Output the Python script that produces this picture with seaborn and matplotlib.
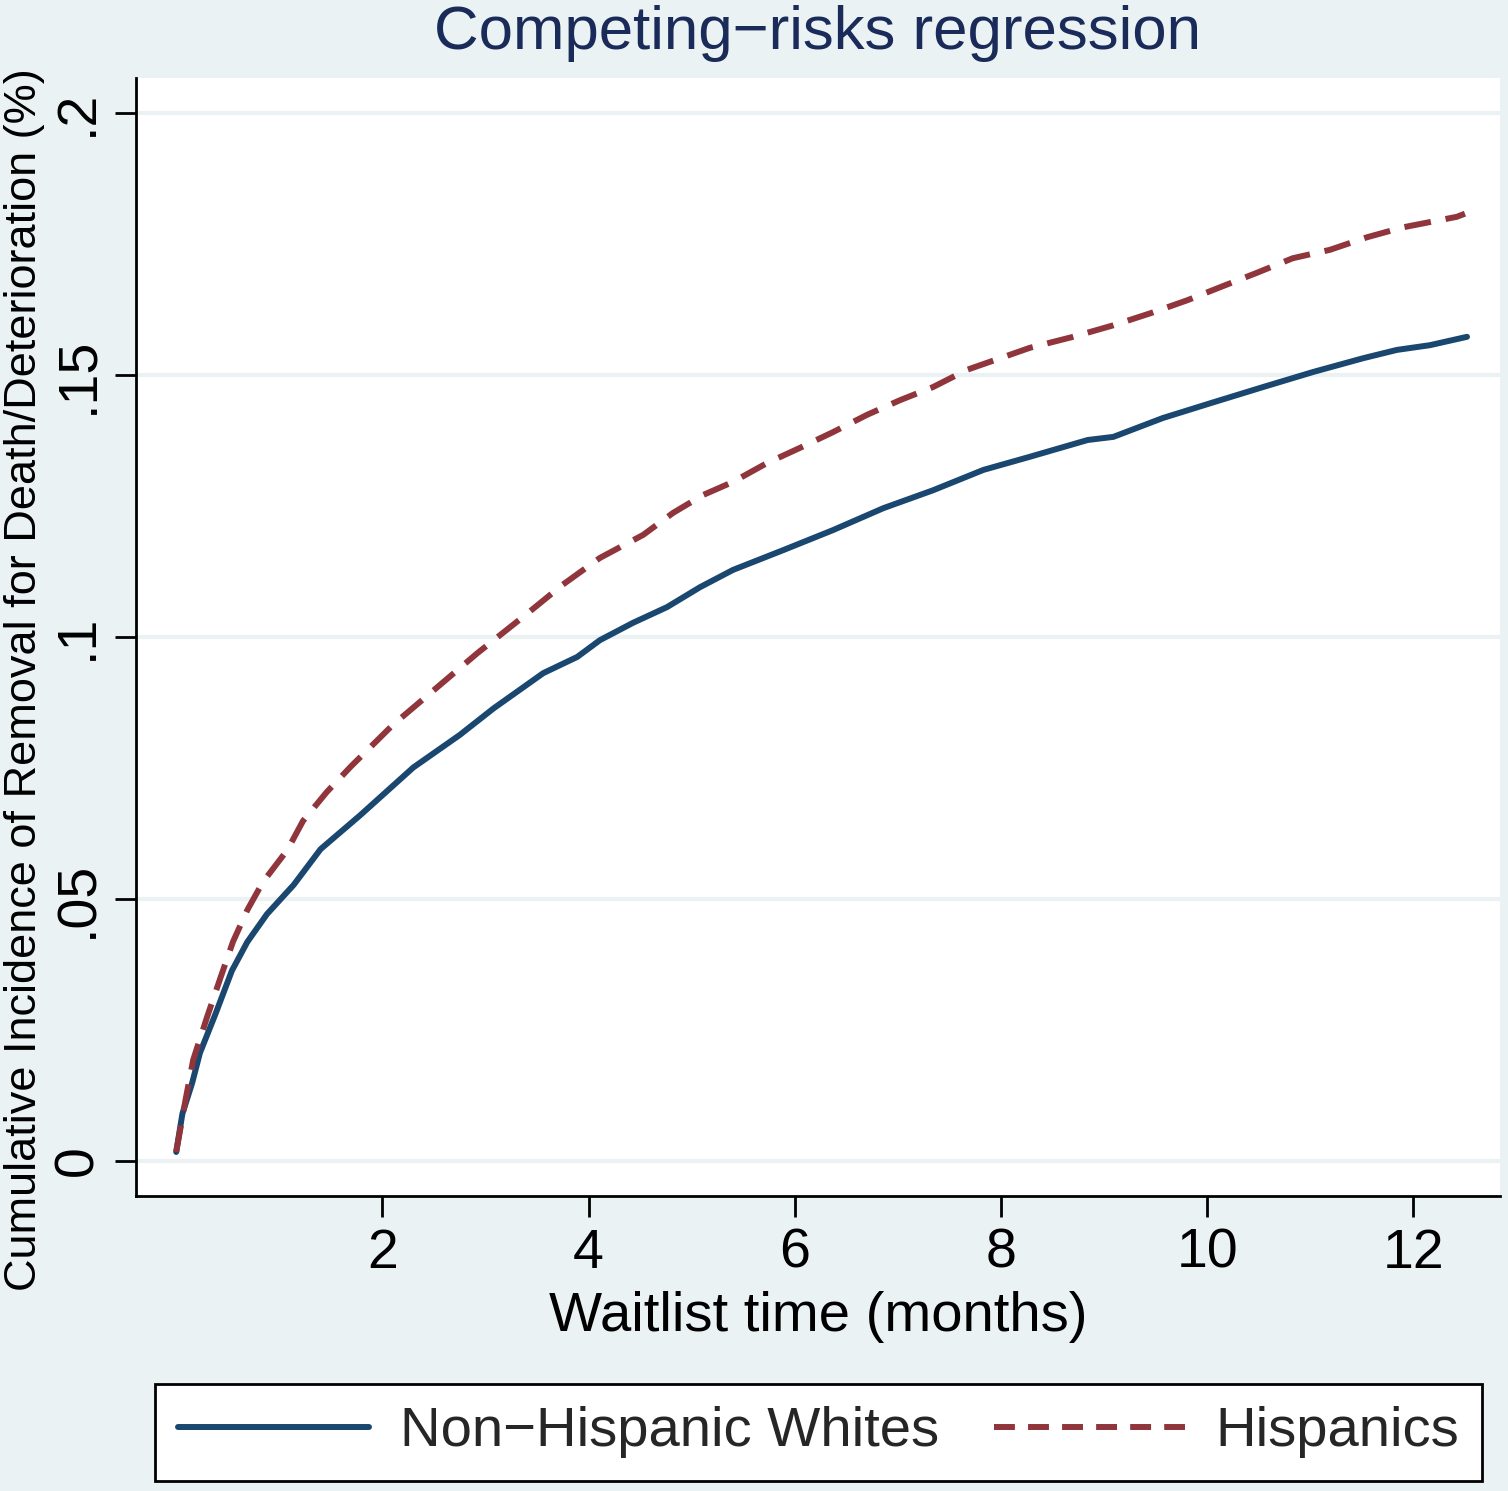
import pandas as pd
import numpy as np
from matplotlib import pyplot as plt
from matplotlib.lines import Line2D
import seaborn as sns

# curves
months = [0.0, 0.06, 0.155, 0.23, 0.38, 0.54, 0.69, 0.88, 1.14, 1.40,
          1.78, 2.30, 2.75, 3.08, 3.56, 3.89, 4.11, 4.43, 4.76, 5.08,
          5.40, 5.89, 6.37, 6.86, 7.34, 7.83, 8.28, 8.84, 9.09, 9.57,
          10.06, 10.54, 11.03, 11.51, 11.84, 12.16, 12.52]
whites = [0.0017, 0.009, 0.0149, 0.0206, 0.028, 0.0363, 0.0418, 0.0471, 0.0527, 0.0595,
          0.0659, 0.0751, 0.0813, 0.0864, 0.0931, 0.0962, 0.0994, 0.1027, 0.1057, 0.1095,
          0.1128, 0.1166, 0.1204, 0.1246, 0.128, 0.1319, 0.1344, 0.1376, 0.1382, 0.1418,
          0.1448, 0.1477, 0.1506, 0.1532, 0.1548, 0.1557, 0.1573]

months_h = [0.0, 0.09, 0.165, 0.30, 0.43, 0.55, 0.69, 0.84, 1.08, 1.23,
            1.46, 1.69, 2.10, 2.43, 2.92, 3.40, 3.75, 4.11, 4.53, 4.82,
            5.11, 5.40, 5.73, 6.05, 6.37, 6.70, 7.02, 7.34, 7.67, 7.99,
            8.28, 8.70, 9.09, 9.45, 9.81, 10.13, 10.48, 10.83, 11.19, 11.55,
            11.90, 12.42, 12.50]
hispanics = [0.0017, 0.0116, 0.0193, 0.0275, 0.035, 0.0418, 0.0479, 0.0532, 0.0594, 0.0649,
             0.0704, 0.0752, 0.0832, 0.0887, 0.0969, 0.1044, 0.110, 0.1151, 0.1195, 0.1237,
             0.1271, 0.1296, 0.1332, 0.1361, 0.1391, 0.1424, 0.1452, 0.1477, 0.151, 0.1532,
             0.1552, 0.1573, 0.1595, 0.1618, 0.1643, 0.1668, 0.1695, 0.1723, 0.1739, 0.1763,
             0.1782, 0.1802, 0.1808]

group_names = ["Non\u2212Hispanic Whites", "Hispanics"]
yticks = [0, 0.05, 0.1, 0.15, 0.2]
ytick_labels = ["0", ".05", ".1", ".15", ".2"]
xticks = [2, 4, 6, 8, 10, 12]

bg = "#eaf2f3"
navy = "#1a476f"
maroon = "#90353b"

sns.set_theme(style="white")
plt.rcParams["font.family"] = ["Liberation Sans", "DejaVu Sans"]

fig = plt.figure(figsize=(15.08, 14.91), dpi=100)
fig.patch.set_facecolor(bg)
W, H = 1508, 1491
ax = fig.add_axes([136 / W, 1 - 1196 / H, (1500 - 136) / W, (1196 - 78) / H])
ax.set_facecolor("white")

df_w = pd.DataFrame({"months": months, "cif": whites})
df_h = pd.DataFrame({"months": months_h, "cif": hispanics})
sns.lineplot(data=df_w, x="months", y="cif", ax=ax, color=navy, lw=4.3,
             solid_capstyle="round")
sns.lineplot(data=df_h, x="months", y="cif", ax=ax, color=maroon, lw=4.3,
             dashes=False)
ax.lines[-1].set_dashes((4.5, 2.5))

ax.set_xlim(-0.39, 12.84)
ax.set_ylim(-0.0067, 0.2067)
ax.set_yticks(yticks)
ax.set_yticklabels(ytick_labels, rotation=90, va="center")
ax.set_xticks(xticks)
ax.grid(axis="y", color=bg, lw=3)
ax.grid(axis="x", visible=False)
for s in ["top", "right"]:
    ax.spines[s].set_visible(False)
for s in ["left", "bottom"]:
    ax.spines[s].set_color("black")
    ax.spines[s].set_linewidth(2)
ax.tick_params(axis="both", direction="out", length=15, width=2,
               colors="black", labelsize=40, pad=8, left=True, bottom=True)

ax.set_xlabel("Waitlist time (months)", fontsize=40.5, color="black", labelpad=8)
ax.set_ylabel("Cumulative Incidence of Removal for Death/Deterioration (%)",
              fontsize=32.5, color="black", va="center")
ax.yaxis.set_label_coords(-0.0814, 0.4615)
fig.text(818 / W, 1 - 33 / H, "Competing\u2212risks regression", fontsize=44.5,
         color="#1a2b5a", ha="center", va="center")

handles = [Line2D([], [], color=navy, lw=4.3),
           Line2D([], [], color=maroon, lw=4.3, dashes=(3.5, 2.2))]
leg = fig.legend(handles, group_names, loc="center", ncol=2, mode="expand",
                 bbox_to_anchor=(155 / W, 1 - 1485 / H, (1482 - 155) / W, 105 / H),
                 fontsize=40.5, frameon=True, fancybox=False, handlelength=3.4,
                 handletextpad=0.55, columnspacing=0.9, borderaxespad=0)
leg.get_frame().set_edgecolor("black")
leg.get_frame().set_linewidth(2)
leg.get_frame().set_facecolor("white")
leg.get_frame().set_alpha(1)

fig.savefig("out.png", dpi=100, facecolor=bg)
